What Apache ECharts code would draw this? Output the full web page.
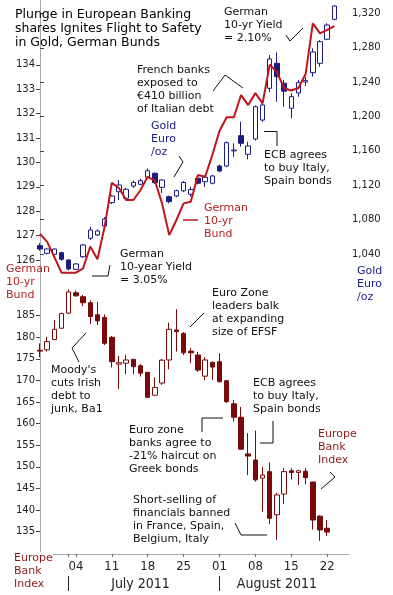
<!DOCTYPE html>
<html><head><meta charset="utf-8">
<script src="https://cdn.jsdelivr.net/npm/echarts@6/dist/echarts.min.js"></script>
<style>html,body{margin:0;padding:0;background:#fff}#c{width:393px;height:595px}</style>
</head><body><div id="c"></div>
<script>
// ---- data ----
const dates = ['2011-06-27','2011-06-28','2011-06-29','2011-06-30','2011-07-01',
 '2011-07-04','2011-07-05','2011-07-06','2011-07-07','2011-07-08',
 '2011-07-11','2011-07-12','2011-07-13','2011-07-14','2011-07-15',
 '2011-07-18','2011-07-19','2011-07-20','2011-07-21','2011-07-22',
 '2011-07-25','2011-07-26','2011-07-27','2011-07-28','2011-07-29',
 '2011-08-01','2011-08-02','2011-08-03','2011-08-04','2011-08-05',
 '2011-08-08','2011-08-09','2011-08-10','2011-08-11','2011-08-12',
 '2011-08-15','2011-08-16','2011-08-17','2011-08-18','2011-08-19',
 '2011-08-22','2011-08-23'];
const goldOpen  = [1049.7,1040.8,1039.6,1041.5,1033.0,1022.2,1036.8,1058.3,1062.1,1072.6,1099.7,1112.5,1104.8,1119.1,1121.1,1129.3,1133.9,1117.6,1106.7,1107.5,1113.5,1109.5,1128.1,1124.1,1122.3,1142.4,1142.4,1160.0,1177.7,1156.0,1173.8,1195.9,1232.8,1261.9,1238.7,1209.6,1227.4,1240.2,1251.0,1261.9,1289.9,1313.1];
const goldClose = [1045.8,1045.8,1045.8,1033.8,1022.5,1028.4,1050.5,1067.9,1066.8,1080.7,1107.5,1120.3,1115.3,1123.4,1125.3,1136.9,1123.0,1126.1,1100.9,1113.7,1123.2,1115.0,1122.3,1129.3,1130.8,1136.6,1169.5,1161.0,1168.8,1165.7,1211.4,1213.4,1266.9,1246.3,1229.5,1223.1,1239.4,1241.7,1275.1,1287.1,1306.5,1328.6];
const goldLow   = [1043.8,1039.5,1038.5,1032.0,1021.0,1021.5,1035.5,1056.3,1061.0,1071.0,1098.0,1102.9,1103.0,1117.0,1120.0,1128.0,1121.5,1111.0,1099.0,1106.0,1112.0,1106.7,1121.0,1118.0,1121.0,1135.0,1141.0,1153.2,1164.9,1150.2,1172.0,1194.0,1228.5,1217.2,1211.4,1197.9,1223.0,1235.5,1246.3,1258.0,1289.0,1312.0];
const goldHigh  = [1052.5,1046.5,1046.5,1042.5,1034.0,1029.5,1051.5,1071.7,1068.5,1083.0,1109.0,1126.1,1117.0,1125.5,1127.5,1139.5,1135.0,1127.0,1108.0,1115.0,1125.0,1118.3,1129.5,1130.0,1132.0,1144.0,1171.0,1168.8,1194.0,1170.7,1213.0,1215.0,1271.6,1274.5,1242.5,1227.0,1242.5,1245.6,1279.4,1289.0,1308.5,1329.5];
const bundPrice = [127.07,126.74,126.12,125.48,125.48,125.48,125.66,126.55,126.03,127.36,129.16,128.95,128.46,128.46,128.87,129.41,129.25,128.32,127.02,127.64,128.32,128.39,129.48,129.41,130.30,131.29,131.85,131.85,132.76,132.35,132.84,132.42,134.01,133.70,133.04,132.95,133.05,133.62,135.70,135.29,135.43,135.59];
const bankOpen  = [177.0,177.1,179.5,182.1,185.6,190.3,189.4,188.0,185.2,184.6,180.0,173.8,174.0,174.9,173.4,171.9,166.6,169.4,174.75,181.7,180.9,176.8,175.9,171.0,174.2,174.35,169.95,164.6,161.5,153.0,151.6,147.4,148.9,138.9,143.7,149.1,148.7,149.0,146.5,138.6,135.8];
const bankClose = [176.8,179.0,181.85,185.5,190.5,189.6,188.0,184.8,183.8,178.6,174.35,174.1,174.75,173.2,171.7,166.1,168.4,174.7,181.85,181.3,176.4,176.4,172.4,174.75,173.1,169.7,165.1,161.5,154.1,152.5,147.0,148.1,138.1,143.5,148.9,148.7,149.1,147.5,137.7,135.4,134.9];
const bankLow   = [175.4,176.7,179.4,182.0,185.4,189.4,187.2,183.1,182.8,178.2,173.0,168.0,171.5,171.5,170.9,166.0,166.5,169.0,172.6,176.7,175.9,174.0,172.0,170.1,170.1,169.6,164.8,160.5,154.0,148.1,146.6,139.6,136.8,133.1,141.4,147.1,145.8,146.0,135.5,132.9,134.0];
const bankHigh  = [178.6,180.1,184.0,185.7,191.1,190.8,189.8,188.6,188.2,185.3,180.3,175.7,175.9,175.0,173.8,172.0,170.7,175.0,183.4,186.5,181.2,177.5,176.6,175.4,174.4,176.3,170.1,165.5,163.9,157.8,158.4,150.0,151.0,144.0,149.7,149.7,149.3,149.7,146.6,138.8,137.7];
const bundTicks = [126,127,128,129,130,131,132,133,134];
const goldTicks = [1040,1080,1120,1160,1200,1240,1280,1320];
const bankTicks = [135,140,145,150,155,160,165,170,175,180,185];
const weekTickDates = ['2011-07-04','2011-07-11','2011-07-18','2011-07-25','2011-08-01','2011-08-08','2011-08-15','2011-08-22'];
const months = [{key:'2011-07', label:'July 2011'}, {key:'2011-08', label:'August 2011'}];

// ---- derived ----
const weekIdx = weekTickDates.map(d => dates.indexOf(d));
const monthStart = months.map(m => dates.findIndex(d => d.startsWith(m.key)));
const monthMid = months.map(m => {
  const idx = dates.map((d,i)=>d.startsWith(m.key)?i:-1).filter(i=>i>=0);
  return Math.round((idx[0] + idx[idx.length-1]) / 2);
});
const goldData = dates.map((d,i)=>[i, goldOpen[i], goldClose[i], goldLow[i], goldHigh[i]]);
const bundData = dates.map((d,i)=>[i, bundPrice[i]]);
const bankData = bankOpen.map((v,i)=>[i, bankOpen[i], bankClose[i], bankLow[i], bankHigh[i]]);

const FONT = 'DejaVu Sans';
const NAVY = '#1c1c84', RED = '#c0141c', MAROON = '#7a0a0a', LRED = '#b22222', BANKLBL = '#8b1a1a';
const AX = '#a8a8a8';
const XMIN = -0.28, XMAX = 43.04;
const G = {left:38, right:44};

const hiddenX = gi => ({type:'value', gridIndex:gi, min:XMIN, max:XMAX, show:false});
const yLabel = {fontFamily:FONT, fontSize:10, color:'#222', margin:3};

function txt(x, y, text, color, extra) {
  return Object.assign({type:'text', left:x, top:y, z:50,
    style:{text:text, fontFamily:FONT, fontSize:11, lineHeight:13, fill:color||'#111'}}, extra||{});
}
function pl(points, color, w) {
  return {type:'polyline', z:50, shape:{points:points}, style:{stroke:color||'#111', lineWidth:w||1, fill:null}};
}

const chart = echarts.init(document.getElementById('c'), null, {renderer:'canvas'});
chart.setOption({
  animation:false,
  backgroundColor:'#fff',
  grid:[
    Object.assign({top:0, height:260}, G),
    Object.assign({top:50, height:210}, G),
    Object.assign({top:295, height:242}, G),
    Object.assign({top:0, height:554}, G)
  ],
  xAxis:[
    hiddenX(0), hiddenX(1), hiddenX(2),
    {type:'value', gridIndex:3, min:XMIN, max:XMAX, position:'bottom',
     axisLine:{show:true, lineStyle:{color:AX}},
     axisTick:{show:true, length:3, lineStyle:{color:'#666'}, customValues:[monthStart[0]].concat(weekIdx)},
     axisLabel:{customValues:weekIdx, formatter:v=>dates[Math.round(v)].slice(8),
       fontFamily:'Liberation Sans Narrow, DejaVu Sans Condensed', fontSize:13, color:'#222', margin:6},
     splitLine:{show:false}},
    {type:'value', gridIndex:3, min:XMIN, max:XMAX, position:'bottom', offset:22,
     axisLine:{show:false},
     axisTick:{show:true, length:15, lineStyle:{color:'#222'}, customValues:monthStart},
     axisLabel:{customValues:monthMid, formatter:v=>months[monthMid.indexOf(Math.round(v))].label,
       fontFamily:'Liberation Sans Narrow, DejaVu Sans Condensed', fontSize:14, color:'#222', margin:1},
     splitLine:{show:false}}
  ],
  yAxis:[
    {type:'value', gridIndex:0, position:'right', min:1033.0, max:1335.6,
     axisLine:{show:false}, splitLine:{show:false},
     axisTick:{show:true, length:4, lineStyle:{color:'#444'}, customValues:goldTicks},
     axisLabel:Object.assign({customValues:goldTicks, formatter:v=>v.toLocaleString('en-US')}, yLabel)},
    {type:'value', gridIndex:1, position:'left', min:126, max:134.607,
     axisLine:{show:true, lineStyle:{color:AX}}, splitLine:{show:false},
     axisTick:{show:true, length:4, lineStyle:{color:'#444'}, customValues:bundTicks},
     axisLabel:Object.assign({customValues:bundTicks}, yLabel)},
    {type:'value', gridIndex:2, position:'left', min:133.77, max:189.79,
     axisLine:{show:true, lineStyle:{color:AX}}, splitLine:{show:false},
     axisTick:{show:true, length:4, lineStyle:{color:'#444'}, customValues:bankTicks},
     axisLabel:Object.assign({customValues:bankTicks}, yLabel)},
    {type:'value', gridIndex:3, position:'right', min:0, max:1,
     axisLine:{show:true, lineStyle:{color:AX}}, splitLine:{show:false},
     axisTick:{show:false}, axisLabel:{show:false}}
  ],
  series:[
    {type:'candlestick', name:'Gold', xAxisIndex:0, yAxisIndex:0, data:goldData,
     encode:{x:0, y:[1,2,3,4]}, barWidth:5, clip:false, z:2,
     itemStyle:{color:'#fff', color0:NAVY, borderColor:NAVY, borderColor0:NAVY, borderColorDoji:NAVY, borderWidth:1}},
    {type:'line', name:'Bund', xAxisIndex:1, yAxisIndex:1, data:bundData, clip:false, z:5,
     symbol:'none', lineStyle:{color:RED, width:2}},
    {type:'candlestick', name:'Bank', xAxisIndex:2, yAxisIndex:2, data:bankData,
     encode:{x:0, y:[1,2,3,4]}, barWidth:5, clip:false, z:2,
     itemStyle:{color:'#fff', color0:MAROON, borderColor:MAROON, borderColor0:MAROON, borderColorDoji:MAROON, borderWidth:1}}
  ],
  graphic:[
    {type:'text', left:15, top:8, z:50, style:{text:'Plunge in European Banking\nshares Ignites Flight to Safety\nin Gold, German Bunds',
      fontFamily:FONT, fontSize:12.5, lineHeight:14, fill:'#000'}},
    txt(137, 63.5, 'French banks\nexposed to\n€410 billion\nof Italian debt'),
    txt(151, 120, 'Gold\nEuro\n/oz', NAVY),
    txt(224, 6, 'German\n10-yr Yield\n= 2.10%'),
    txt(264, 148.5, 'ECB agrees\nto buy Italy,\nSpain bonds'),
    txt(204, 201.5, 'German\n10-yr\nBund', LRED),
    txt(120, 247.5, 'German\n10-year Yield\n= 3.05%'),
    txt(6, 262.5, 'German\n10-yr\nBund', LRED),
    txt(357, 264.5, 'Gold\nEuro\n/oz', NAVY),
    txt(212, 287, 'Euro Zone\nleaders balk\nat expanding\nsize of EFSF'),
    txt(51, 364, 'Moody\'s\ncuts Irish\ndebt to\njunk, Ba1'),
    txt(253, 377, 'ECB agrees\nto buy Italy,\nSpain bonds'),
    txt(129, 423.5, 'Euro zone\nbanks agree to\n-21% haircut on\nGreek bonds'),
    txt(318, 428, 'Europe\nBank\nIndex', BANKLBL),
    txt(133, 493.5, 'Short-selling of\nfinancials banned\nin France, Spain,\nBelgium, Italy'),
    {type:'text', left:14, top:552, z:60, style:{text:'Europe\nBank\nIndex', fontFamily:FONT, fontSize:11, lineHeight:13,
      fill:BANKLBL, backgroundColor:'#fff'}},
    pl([[213,91],[225,75],[243,88]]),
    pl([[286,35],[290,41],[303,28]]),
    pl([[264,131.5],[277,131.5],[277,146]]),
    pl([[179,156],[183,162],[174,177]]),
    pl([[183,220],[198,220]], RED, 1.5),
    pl([[92,276],[108,276],[110,265]]),
    pl([[190,327],[204,313]]),
    pl([[86,333],[72,348],[79,362]]),
    pl([[260,443],[273,443],[273,421]]),
    pl([[202,432],[202,418],[223,418]]),
    pl([[321,489],[335,477],[330,472]]),
    pl([[235,523],[241,535],[267,535]])
  ]
});
</script>
</body></html>
